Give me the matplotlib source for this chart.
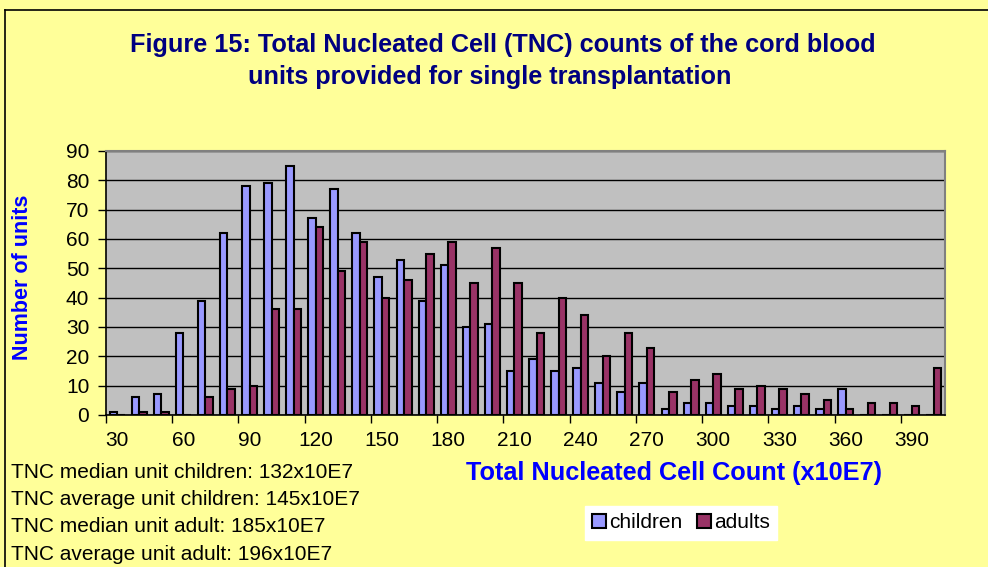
import matplotlib
matplotlib.use("Agg")
import matplotlib.pyplot as plt
from matplotlib.patches import Patch
import numpy as np

plt.rcParams['font.family'] = ['Liberation Sans', 'DejaVu Sans']

categories = list(range(30, 410, 10))
children = [1, 6, 7, 28, 39, 62, 78, 79, 85, 67, 77, 62, 47, 53, 39, 51, 30, 31, 15, 19,
            15, 16, 11, 8, 11, 2, 4, 4, 3, 3, 2, 3, 2, 9, 0, 0, 0, 0]
adults = [0, 1, 1, 0, 6, 9, 10, 36, 36, 64, 49, 59, 40, 46, 55, 59, 45, 57, 45, 28,
          40, 34, 20, 28, 23, 8, 12, 14, 9, 10, 9, 7, 5, 2, 4, 4, 3, 16]
series_names = ["children", "adults"]
tick_labels = [str(c) for c in categories[::3]]
title_lines = ["Figure 15: Total Nucleated Cell (TNC) counts of the cord blood",
               "units provided for single transplantation"]
notes = ["TNC median unit children: 132x10E7",
         "TNC average unit children: 145x10E7",
         "TNC median unit adult: 185x10E7",
         "TNC average unit adult: 196x10E7"]

c_child = "#9999FF"
c_adult = "#993366"
bg = "#FFFF99"

W, H = 988, 567
fig = plt.figure(figsize=(W / 100, H / 100), dpi=100, facecolor=bg)

# figure border (left and top visible)
fig.add_artist(plt.Line2D([5 / W, 5 / W], [0, 1 - 10 / H], color="black", lw=1.2, transform=fig.transFigure))
fig.add_artist(plt.Line2D([5 / W, 1], [1 - 10 / H, 1 - 10 / H], color="black", lw=1.2, transform=fig.transFigure))

ax = fig.add_axes([106 / W, 1 - 415 / H, (945 - 106) / W, (415 - 151) / H])
ax.set_facecolor("#C0C0C0")

x = np.arange(len(categories))
w = 0.34
ax.bar(x - w / 2, children, width=w, color=c_child, edgecolor="black", linewidth=1.5, zorder=3)
ax.bar(x + w / 2, adults, width=w, color=c_adult, edgecolor="black", linewidth=1.5, zorder=3)

ax.set_xlim(-0.5, len(categories) - 0.5)
ax.set_ylim(0, 90)
ax.set_yticks(np.arange(0, 91, 10))
ax.yaxis.grid(True, color="black", linewidth=1)
ax.set_axisbelow(True)

# major ticks at group boundaries (marks only), minor ticks carry labels
ax.set_xticks(np.arange(-0.5, len(categories), 3))
ax.set_xticklabels([])
ax.set_xticks(x[::3], minor=True)
ax.set_xticklabels(tick_labels, minor=True)
ax.tick_params(axis="x", which="major", length=6, width=1, color="black", direction="out")
ax.tick_params(axis="x", which="minor", length=0, labelsize=15, pad=11.5)
ax.tick_params(axis="y", length=6, width=1, labelsize=15, pad=6)

for s in ["left", "bottom"]:
    ax.spines[s].set_color("black")
    ax.spines[s].set_linewidth(1.2)
for s in ["top", "right"]:
    ax.spines[s].set_color("#808080")
    ax.spines[s].set_linewidth(1.5)

fig.text(503 / W, 1 - 45 / H, title_lines[0], ha="center", va="center",
         fontsize=18.2, fontweight="bold", color="#000080")
fig.text(490 / W, 1 - 77 / H, title_lines[1], ha="center", va="center",
         fontsize=18.2, fontweight="bold", color="#000080")

fig.text(23 / W, 1 - 277 / H, "Number of units", rotation=90, ha="center", va="center",
         fontsize=15.5, fontweight="bold", color="#0000FF")
fig.text(674 / W, 1 - 473 / H, "Total Nucleated Cell Count (x10E7)", ha="center", va="center",
         fontsize=18.2, fontweight="bold", color="#0000FF")

for i, t in enumerate(notes):
    fig.text(11 / W, 1 - (472 + 27.4 * i) / H, t, ha="left", va="center", fontsize=15, color="black")

handles = [Patch(facecolor=c_child, edgecolor="black", linewidth=1.5),
           Patch(facecolor=c_adult, edgecolor="black", linewidth=1.5)]
leg = fig.legend(handles, series_names, loc="center", bbox_to_anchor=(681 / W, 1 - 523 / H),
                 ncol=2, frameon=True, fancybox=False, fontsize=15, handlelength=0.65,
                 handleheight=0.65, handletextpad=0.15, columnspacing=0.7, borderpad=0.35)
leg.get_frame().set_facecolor("white")
leg.get_frame().set_edgecolor("white")
leg.get_frame().set_alpha(1)

fig.savefig("out.png", dpi=100, facecolor=bg)
